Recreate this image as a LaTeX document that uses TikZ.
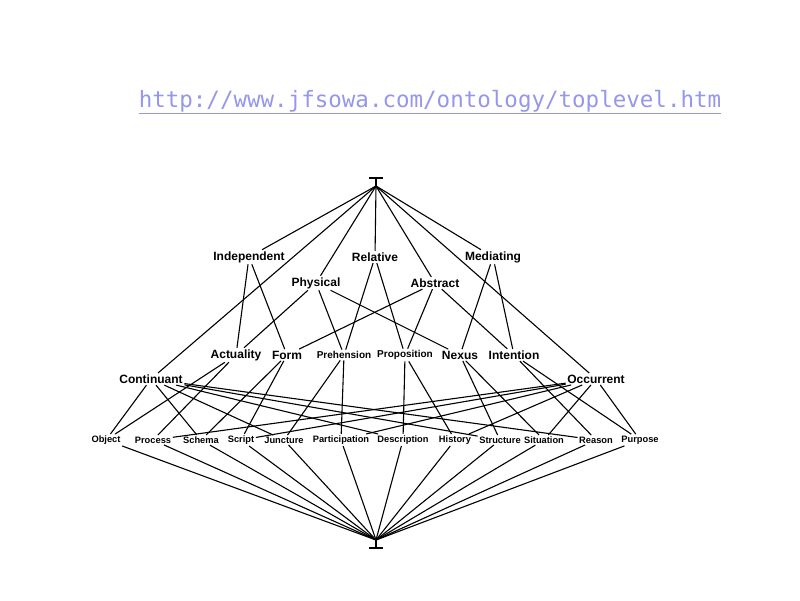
\documentclass[tikz,border=0pt]{standalone}
\usepackage{fontspec}
\setmainfont{Liberation Sans}
\newfontfamily\urlfont{DejaVu Sans Mono}
\definecolor{urlc}{RGB}{150,150,235}
\begin{document}
\begin{tikzpicture}[x=1pt,y=-1pt,
  lbl/.style={font=\bfseries\fontsize{12}{14}\selectfont, inner sep=1.5pt},
  leaf/.style={font=\bfseries\fontsize{9.3}{11}\selectfont, inner sep=1.5pt},
  edge/.style={line width=1.1pt}]
\useasboundingbox (0,0) rectangle (800,600);
\node[font=\urlfont\fontsize{22.5}{26}\selectfont, text=urlc, inner sep=0pt] (url) at (430,102) {\underline{http://www.jfsowa.com/ontology/toplevel.htm}};
\coordinate (top) at (376,186);
\coordinate (bot) at (376,540);
\draw[edge] (369,178) -- (383,178) (376,178) -- (top);
\draw[edge] (369,548) -- (383,548) (376,548) -- (bot);
\node[lbl] (ind) at (249,257) {Independent};
\node[lbl] (rel) at (375,257) {Relative};
\node[lbl] (med) at (493,257) {Mediating};
\node[lbl] (phy) at (316,283) {Physical};
\node[lbl] (abs) at (435,283) {Abstract};
\node[lbl] (act) at (236,355) {Actuality};
\node[lbl] (frm) at (287,355) {Form};
\node[leaf,font=\bfseries\fontsize{10}{12}\selectfont] (pre) at (344,355) {Prehension};
\node[leaf,font=\bfseries\fontsize{10}{12}\selectfont] (pro) at (405,355) {Proposition};
\node[lbl] (nex) at (460,355) {Nexus};
\node[lbl] (int) at (514,355) {Intention};
\node[lbl] (con) at (151,379) {Continuant};
\node[lbl] (occ) at (596,379) {Occurrent};
\foreach \n/\x/\t in {obj/106/Object, prc/153/Process, sch/201/Schema, scr/241/Script, jun/284/Juncture, par/341/Participation, des/403/Description, his/455/History, str/500/Structure, sit/544/Situation, rea/596/Reason, pur/640/Purpose}
  \node[leaf] (\n) at (\x,440) {\t};
\foreach \a in {ind,rel,med,phy,abs,con,occ} \draw[edge] (top) -- (\a);
\foreach \a/\b in {ind/act,ind/frm,rel/pre,rel/pro,med/nex,med/int,phy/act,phy/pre,phy/nex,abs/frm,abs/pro,abs/int,
  act/obj,act/prc,frm/sch,frm/scr,pre/jun,pre/par,pro/des,pro/his,nex/str,nex/sit,int/rea,int/pur,
  con/obj,con/sch,con/jun,con/des,con/str,con/rea,occ/prc,occ/scr,occ/par,occ/his,occ/sit,occ/pur}
  \draw[edge] (\a) -- (\b);
\foreach \b in {obj,prc,sch,scr,jun,par,des,his,str,sit,rea,pur} \draw[edge] (\b) -- (bot);
\end{tikzpicture}
\end{document}
